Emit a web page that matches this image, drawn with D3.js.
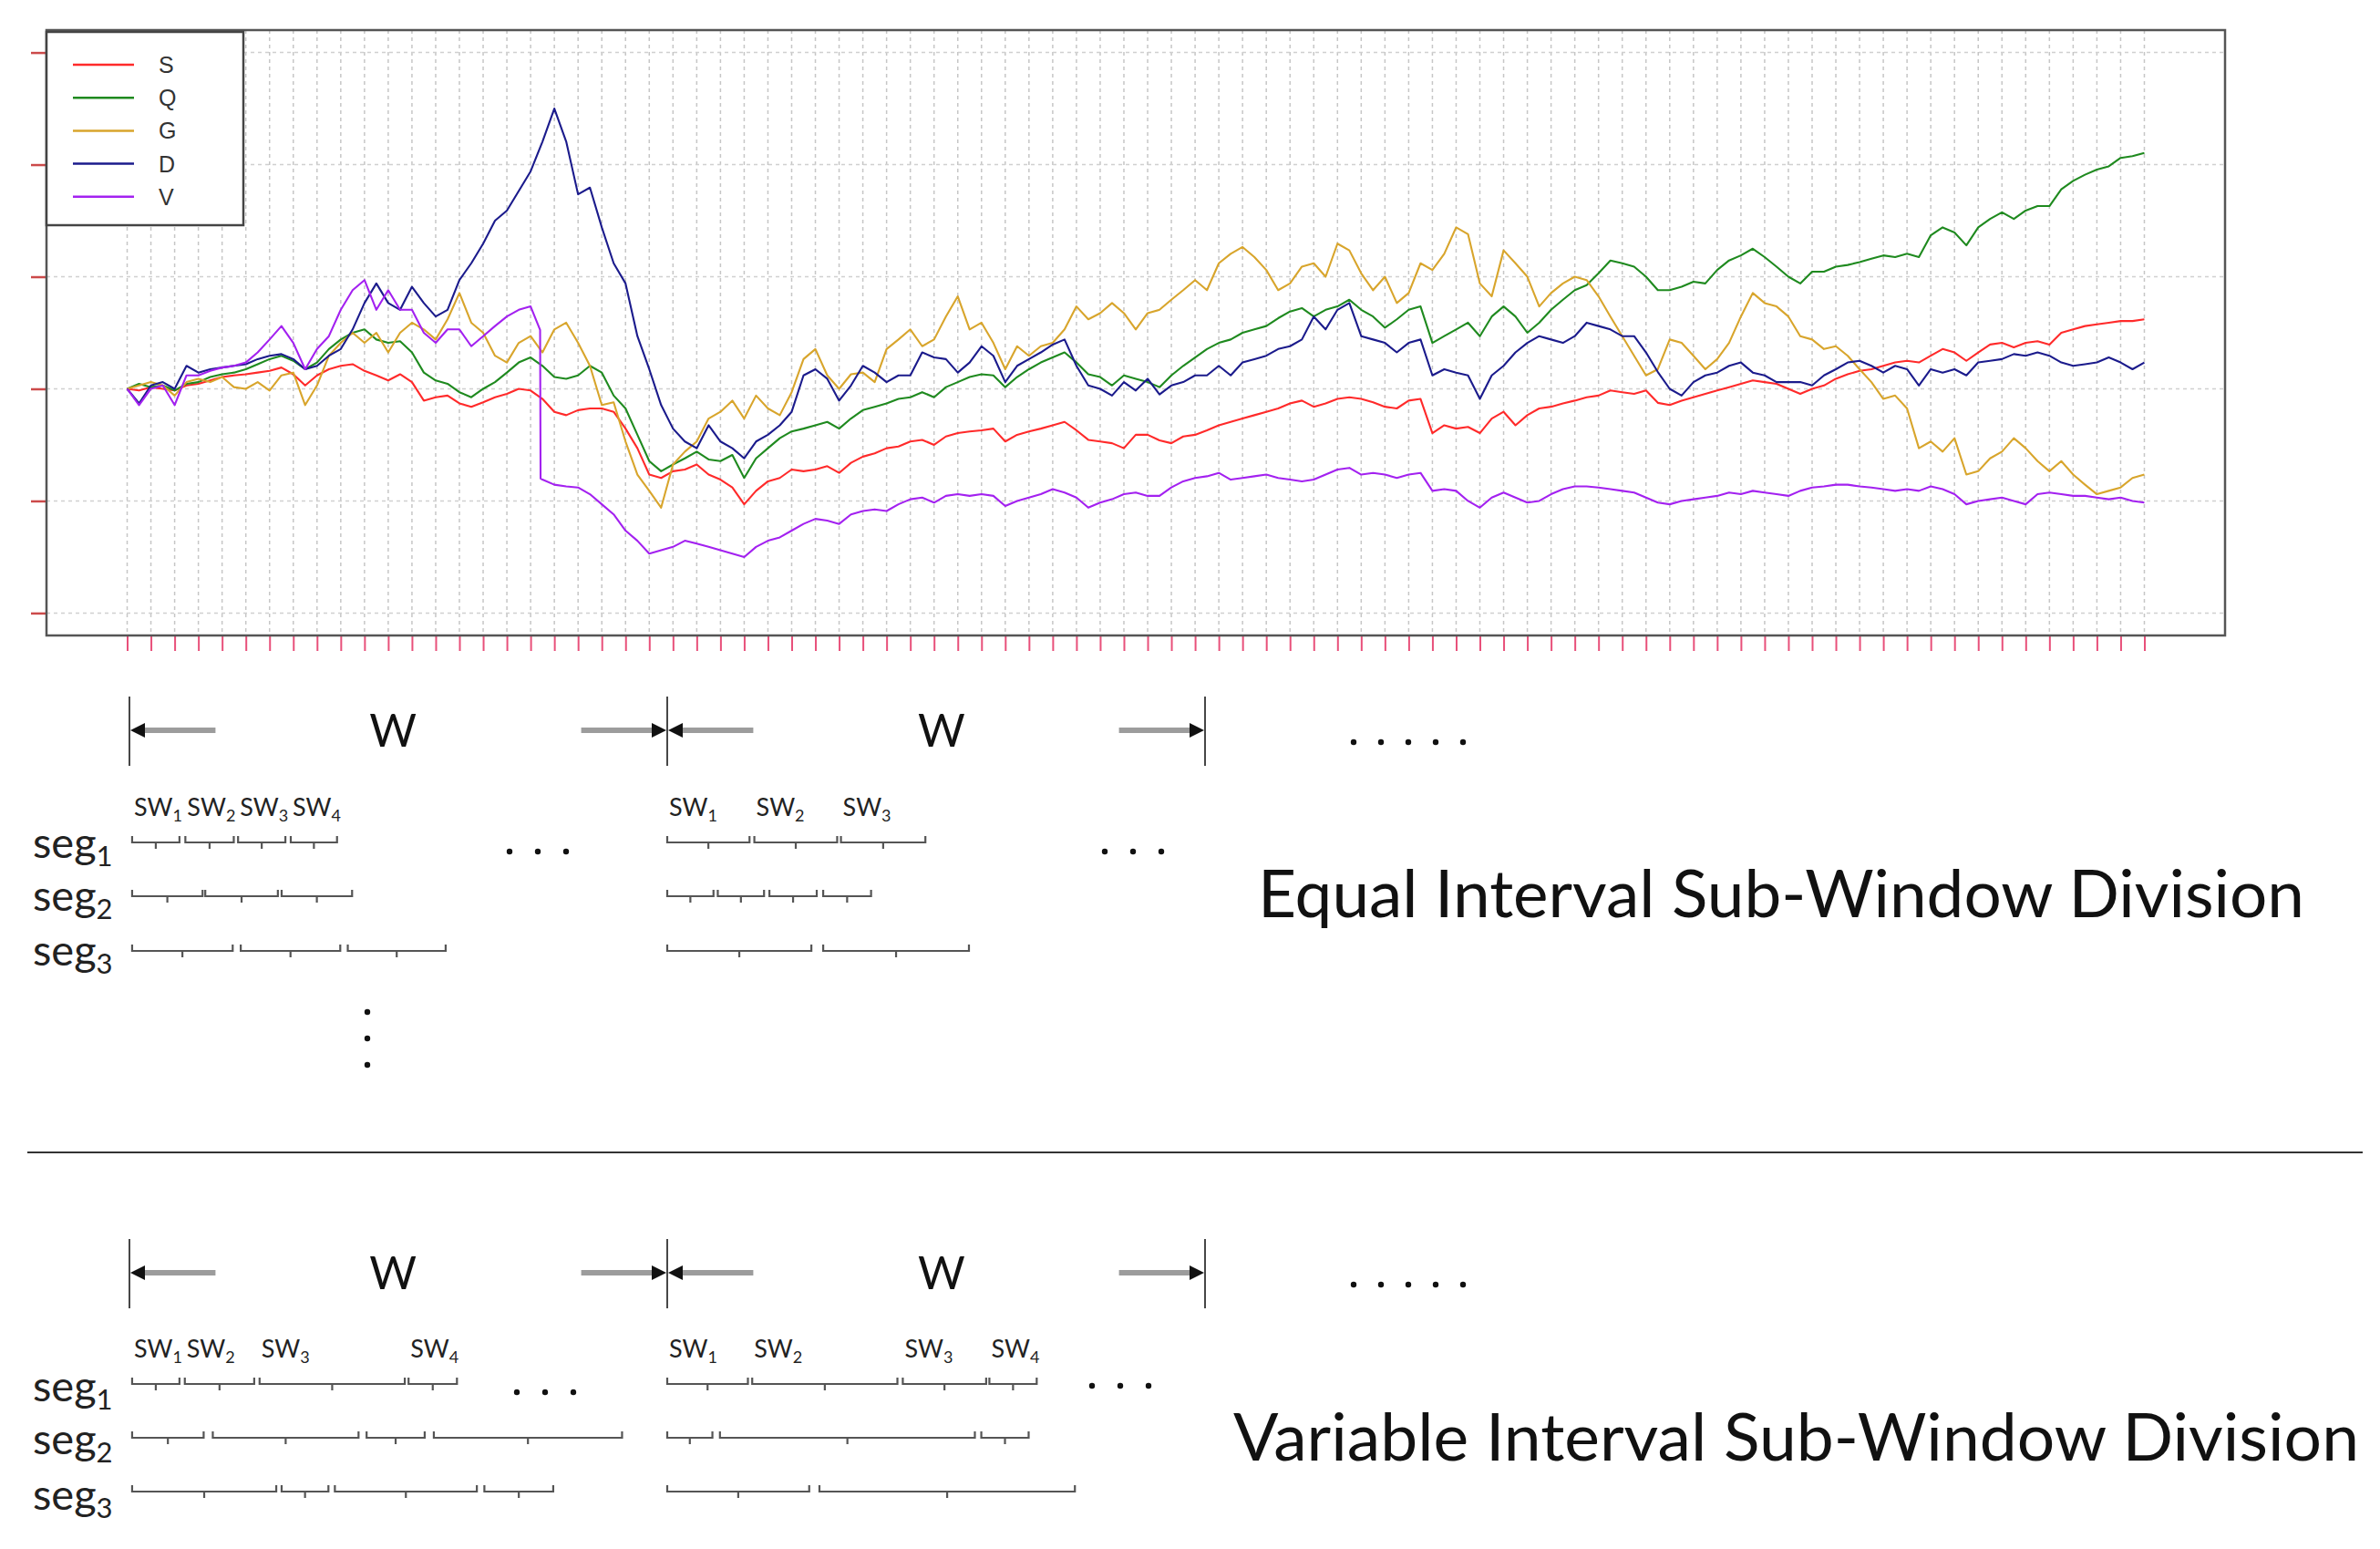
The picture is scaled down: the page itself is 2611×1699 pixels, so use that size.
<!DOCTYPE html>
<html><head><meta charset="utf-8">
<script src="https://cdn.jsdelivr.net/npm/d3@7/dist/d3.min.js"></script>
<style>body{margin:0;background:#fff}svg{display:block}</style>
</head><body>
<svg id="c" width="2611" height="1699"></svg>
<script>
// ---------- DATA ----------
const seriesNames  = ["S","Q","G","D","V"];
const seriesColors = ["#ff2a2a","#1f8a1f","#d8a52c","#1b1b8c","#a321f0"];
const tStep = 0.5;            // sampling step (in x-tick units)
const xTickValues = d3.range(0, 86, 1);
const yTickValues = [0.6, 0.8, 1.0, 1.2, 1.4, 1.6];

const S = [
1.000,0.997,1.003,1.000,0.997,1.006,1.009,1.015,1.021,1.024,
1.026,1.029,1.032,1.038,1.026,1.006,1.024,1.035,1.041,1.044,
1.032,1.024,1.015,1.026,1.012,0.979,0.985,0.988,0.974,0.968,
0.976,0.985,0.991,1.000,0.997,0.982,0.959,0.953,0.962,0.965,
0.965,0.959,0.929,0.894,0.847,0.841,0.853,0.856,0.865,0.847,
0.838,0.824,0.794,0.818,0.835,0.841,0.856,0.853,0.856,0.862,
0.850,0.868,0.879,0.885,0.894,0.897,0.906,0.909,0.900,0.915,
0.921,0.924,0.926,0.929,0.906,0.918,0.924,0.929,0.935,0.941,
0.926,0.909,0.906,0.903,0.894,0.918,0.918,0.908,0.903,0.915,
0.918,0.926,0.935,0.941,0.947,0.953,0.959,0.965,0.974,0.979,
0.968,0.974,0.982,0.985,0.982,0.976,0.968,0.965,0.979,0.982,
0.921,0.935,0.929,0.932,0.921,0.947,0.959,0.935,0.953,0.965,
0.968,0.974,0.979,0.985,0.988,0.997,0.994,0.991,0.997,0.975,
0.971,0.979,0.985,0.991,0.997,1.003,1.009,1.015,1.012,1.009,
1.000,0.991,1.000,1.006,1.018,1.026,1.032,1.035,1.041,1.047,
1.050,1.047,1.059,1.071,1.065,1.050,1.065,1.079,1.082,1.074,
1.082,1.085,1.079,1.100,1.106,1.112,1.115,1.118,1.121,1.121,
1.124];
const Q = [
1.000,1.009,1.003,1.006,0.997,1.009,1.012,1.021,1.026,1.029,
1.035,1.044,1.053,1.059,1.050,1.035,1.047,1.071,1.088,1.100,
1.106,1.088,1.082,1.085,1.065,1.029,1.015,1.009,0.994,0.985,
1.000,1.012,1.029,1.047,1.056,1.041,1.021,1.018,1.024,1.041,
1.029,0.988,0.965,0.918,0.871,0.853,0.865,0.876,0.888,0.874,
0.871,0.882,0.841,0.876,0.894,0.912,0.924,0.929,0.935,0.941,
0.929,0.947,0.962,0.968,0.974,0.982,0.985,0.994,0.985,1.003,
1.012,1.021,1.026,1.024,1.003,1.021,1.035,1.047,1.056,1.065,
1.047,1.026,1.021,1.006,1.024,1.018,1.012,1.003,1.024,1.041,
1.056,1.071,1.082,1.088,1.100,1.106,1.112,1.126,1.138,1.144,
1.129,1.141,1.147,1.159,1.141,1.129,1.109,1.124,1.141,1.147,
1.082,1.094,1.106,1.118,1.094,1.129,1.147,1.129,1.100,1.118,
1.141,1.159,1.176,1.185,1.206,1.229,1.224,1.218,1.200,1.176,
1.176,1.182,1.191,1.188,1.212,1.229,1.238,1.250,1.235,1.218,
1.200,1.188,1.209,1.209,1.218,1.221,1.226,1.232,1.238,1.235,
1.241,1.235,1.274,1.288,1.279,1.256,1.288,1.303,1.315,1.303,
1.318,1.326,1.326,1.356,1.371,1.382,1.391,1.397,1.412,1.415,
1.421];
const G = [
1.000,1.006,1.012,1.006,0.988,1.012,1.018,1.012,1.021,1.003,
1.000,1.012,0.997,1.024,1.029,0.971,1.006,1.059,1.082,1.100,
1.082,1.100,1.065,1.100,1.118,1.106,1.088,1.124,1.171,1.118,
1.100,1.059,1.047,1.082,1.094,1.065,1.106,1.118,1.082,1.041,
0.971,0.976,0.906,0.847,0.818,0.788,0.865,0.888,0.906,0.947,
0.959,0.979,0.947,0.988,0.965,0.953,0.994,1.053,1.071,1.024,
1.000,1.026,1.029,1.012,1.071,1.088,1.106,1.076,1.088,1.129,
1.165,1.106,1.118,1.082,1.035,1.076,1.059,1.076,1.082,1.106,
1.147,1.124,1.135,1.153,1.135,1.106,1.135,1.141,1.159,1.176,
1.194,1.176,1.224,1.241,1.253,1.235,1.212,1.176,1.188,1.218,
1.224,1.200,1.259,1.247,1.206,1.176,1.200,1.153,1.171,1.224,
1.212,1.241,1.288,1.276,1.188,1.165,1.247,1.224,1.200,1.147,
1.171,1.188,1.200,1.194,1.165,1.129,1.094,1.059,1.024,1.035,
1.088,1.082,1.059,1.035,1.053,1.082,1.129,1.171,1.153,1.147,
1.129,1.094,1.088,1.071,1.076,1.059,1.035,1.012,0.982,0.988,
0.965,0.894,0.906,0.888,0.912,0.847,0.853,0.876,0.888,0.912,
0.894,0.871,0.853,0.871,0.847,0.829,0.812,0.818,0.824,0.841,
0.847];
const D = [
1.000,0.974,1.006,1.012,1.000,1.041,1.029,1.035,1.038,1.041,
1.044,1.053,1.059,1.062,1.053,1.035,1.041,1.059,1.071,1.106,
1.153,1.188,1.153,1.141,1.182,1.153,1.129,1.141,1.194,1.224,
1.259,1.300,1.318,1.353,1.388,1.441,1.500,1.441,1.347,1.359,
1.288,1.224,1.188,1.094,1.035,0.971,0.929,0.906,0.894,0.935,
0.906,0.894,0.876,0.906,0.918,0.935,0.959,1.024,1.035,1.018,
0.979,1.006,1.041,1.029,1.012,1.024,1.024,1.065,1.056,1.053,
1.029,1.047,1.076,1.059,1.012,1.041,1.053,1.065,1.079,1.088,
1.041,1.006,1.000,0.988,1.012,0.997,1.018,0.990,1.006,1.012,
1.024,1.024,1.041,1.024,1.047,1.053,1.059,1.071,1.076,1.088,
1.129,1.106,1.141,1.153,1.094,1.088,1.082,1.065,1.082,1.088,
1.024,1.035,1.029,1.024,0.982,1.024,1.041,1.065,1.082,1.094,
1.088,1.082,1.094,1.118,1.112,1.106,1.094,1.094,1.065,1.030,
1.000,0.988,1.012,1.024,1.029,1.041,1.047,1.029,1.024,1.012,
1.012,1.012,1.006,1.024,1.035,1.047,1.050,1.041,1.029,1.041,
1.035,1.006,1.035,1.029,1.035,1.024,1.047,1.050,1.053,1.062,
1.059,1.065,1.059,1.047,1.041,1.044,1.047,1.056,1.047,1.035,
1.047];
const V = [
1.000,0.971,1.000,1.006,0.971,1.024,1.024,1.032,1.038,1.041,
1.047,1.065,1.088,1.112,1.082,1.035,1.071,1.094,1.141,1.176,
1.194,1.141,1.176,1.141,1.141,1.100,1.082,1.106,1.106,1.076,
1.094,1.112,1.129,1.141,1.147,0.838,0.829,0.826,0.824,0.812,
0.794,0.776,0.747,0.729,0.706,0.712,0.718,0.729,0.724,0.718,
0.712,0.706,0.700,0.718,0.729,0.735,0.747,0.759,0.768,0.765,
0.759,0.776,0.782,0.785,0.782,0.794,0.803,0.806,0.797,0.809,
0.812,0.809,0.812,0.809,0.791,0.800,0.806,0.812,0.821,0.815,
0.806,0.788,0.797,0.803,0.812,0.815,0.809,0.809,0.824,0.835,
0.841,0.844,0.850,0.838,0.841,0.844,0.847,0.841,0.838,0.835,
0.838,0.847,0.856,0.859,0.847,0.850,0.847,0.841,0.847,0.850,
0.818,0.821,0.818,0.800,0.788,0.806,0.815,0.806,0.797,0.800,
0.812,0.821,0.826,0.826,0.824,0.821,0.818,0.815,0.806,0.797,
0.794,0.800,0.803,0.806,0.809,0.815,0.812,0.818,0.815,0.812,
0.809,0.818,0.824,0.826,0.829,0.829,0.826,0.824,0.821,0.818,
0.821,0.818,0.826,0.821,0.812,0.794,0.800,0.803,0.806,0.800,
0.794,0.812,0.815,0.812,0.809,0.809,0.806,0.803,0.806,0.800,
0.797];
const vJump = [[17.40, 1.105], [17.42, 0.840]];   // sudden drop of V

// sub-window diagrams (in window units, W = 1)
const windowEdges = [0, 1, 2];
const windowLabels = [0.49, 1.51];
const equalSegs = [
  [[0.005,0.093],[0.104,0.194],[0.202,0.290],[0.300,0.386],[1.000,1.153],[1.162,1.316],[1.323,1.480]],
  [[0.005,0.136],[0.141,0.276],[0.283,0.414],[1.000,1.086],[1.094,1.180],[1.190,1.278],[1.290,1.379]],
  [[0.005,0.192],[0.207,0.392],[0.406,0.588],[1.000,1.268],[1.290,1.561]]
];
const variableSegs = [
  [[0.005,0.093],[0.103,0.232],[0.242,0.512],[0.519,0.609],[1.000,1.150],[1.158,1.428],[1.438,1.593],[1.599,1.687]],
  [[0.005,0.138],[0.155,0.426],[0.441,0.549],[0.566,0.916],[1.000,1.084],[1.098,1.572],[1.584,1.672]],
  [[0.005,0.273],[0.283,0.370],[0.382,0.646],[0.660,0.788],[1.000,1.264],[1.283,1.758]]
];
const segNames = ["seg","seg","seg"];
const titles = ["Equal Interval Sub-Window Division", "Variable Interval Sub-Window Division"];

// ---------- DRAW ----------
const svg = d3.select("#c");
svg.append("rect").attr("width",2611).attr("height",1699).attr("fill","#fff");

const box = {l:51, r:2441, t:33, b:697};
const x = d3.scaleLinear().domain([-3.4, 88.4]).range([box.l, box.r]);
const y = d3.scaleLinear().domain([0.56, 1.64]).range([box.b, box.t]);
const days = d3.range(0, 85 + tStep/2, tStep);

// grid
const grid = svg.append("g");
grid.selectAll("line.v").data(xTickValues).join("line")
  .attr("x1",d=>x(d)).attr("x2",d=>x(d)).attr("y1",box.t).attr("y2",box.b)
  .attr("stroke","#c6c6c6").attr("stroke-width",1.5).attr("stroke-dasharray","4,4");
grid.selectAll("line.h").data(yTickValues).join("line")
  .attr("x1",box.l).attr("x2",box.r).attr("y1",d=>y(d)).attr("y2",d=>y(d))
  .attr("stroke","#d0d0d0").attr("stroke-width",1.5).attr("stroke-dasharray","4,4");

// axes (ticks only, no labels)
const xAxis = d3.axisBottom(x).tickValues(xTickValues).tickSize(17).tickFormat("");
const gx = svg.append("g").attr("transform",`translate(0,${box.b})`).call(xAxis);
gx.select(".domain").remove();
gx.selectAll(".tick line").attr("stroke","#e8507a").attr("stroke-width",2);
const yAxis = d3.axisLeft(y).tickValues(yTickValues).tickSize(17).tickFormat("");
const gy = svg.append("g").attr("transform",`translate(${box.l},0)`).call(yAxis);
gy.select(".domain").remove();
gy.selectAll(".tick line").attr("stroke","#cc4a4a").attr("stroke-width",2.5);

// series
const seriesValues = [S,Q,G,D,V];
const line = d3.line().x(d=>x(d[0])).y(d=>y(d[1]));
svg.append("clipPath").attr("id","pc").append("rect")
  .attr("x",box.l).attr("y",box.t).attr("width",box.r-box.l).attr("height",box.b-box.t);
seriesValues.forEach((vals,k)=>{
  let pts = days.slice(0, vals.length).map((t,i)=>[t, vals[i]]);
  if (seriesNames[k]==="V") pts = pts.concat(vJump).sort((a,b)=>a[0]-b[0]);
  svg.append("path").datum(pts).attr("d",line).attr("fill","none")
    .attr("stroke",seriesColors[k]).attr("stroke-width",2.1)
    .attr("stroke-linejoin","round").attr("clip-path","url(#pc)");
});

// plot frame
svg.append("rect").attr("x",box.l).attr("y",box.t).attr("width",box.r-box.l).attr("height",box.b-box.t)
  .attr("fill","none").attr("stroke","#555").attr("stroke-width",2.5);

// legend
const lg = svg.append("g");
lg.append("rect").attr("x",51).attr("y",35).attr("width",216).attr("height",212)
  .attr("fill","#fff").attr("stroke","#444").attr("stroke-width",2.5);
seriesNames.forEach((n,i)=>{
  const yy = 71 + i*36.2;
  lg.append("line").attr("x1",80).attr("x2",147).attr("y1",yy).attr("y2",yy)
    .attr("stroke",seriesColors[i]).attr("stroke-width",2.5);
  lg.append("text").attr("x",174).attr("y",yy+9).text(n)
    .attr("font-family","Liberation Sans, Arial, sans-serif").attr("font-size",25).attr("fill","#333");
});

// ---------- diagrams ----------
const u = d3.scaleLinear().domain([0,2]).range([142, 1322]);
const FONT = "Lato, 'Open Sans', sans-serif";

function arrow(g, xTail, xHead, yy){
  const dir = Math.sign(xHead - xTail);
  g.append("line").attr("x1",xTail).attr("x2",xHead - dir*12).attr("y1",yy).attr("y2",yy)
    .attr("stroke","#9c9c9c").attr("stroke-width",6);
  g.append("path").attr("d",`M${xHead},${yy} L${xHead-dir*16},${yy-8} L${xHead-dir*16},${yy+8} Z`).attr("fill","#111");
}
function bracket(g, x0, x1, yy){
  const xm = (x0+x1)/2;
  g.append("path").attr("d",`M${x0},${yy-7} L${x0},${yy} L${x1},${yy} L${x1},${yy-7} M${xm},${yy} L${xm},${yy+7}`)
    .attr("fill","none").attr("stroke","#555").attr("stroke-width",2.2);
}
function dots(g, x0, n, gap, yy){
  for(let i=0;i<n;i++) g.append("circle").attr("cx",x0+i*gap).attr("cy",yy).attr("r",3.2).attr("fill","#111");
}
function subText(g, xx, yy, main, sub, fs, sfs, dy){
  const t = g.append("text").attr("x",xx).attr("y",yy).attr("font-family",FONT).attr("font-size",fs).attr("fill","#222");
  t.append("tspan").text(main);
  t.append("tspan").attr("font-size",sfs).attr("dy",dy).text(sub);
}

function panel(cfg){
  const g = svg.append("g");
  windowEdges.forEach(e=>{
    g.append("line").attr("x1",u(e)).attr("x2",u(e)).attr("y1",cfg.wy-37).attr("y2",cfg.wy+39)
      .attr("stroke","#333").attr("stroke-width",1.8);
  });
  [0,1].forEach(w=>{
    arrow(g, u(w+0.16), u(w)+1, cfg.wy);
    arrow(g, u(w+0.84), u(w+1)-1, cfg.wy);
  });
  windowLabels.forEach(c=>{
    g.append("text").attr("x",u(c)).attr("y",cfg.wy+18).attr("text-anchor","middle")
      .attr("font-family",FONT).attr("font-size",50).attr("fill","#111").text("W");
  });
  dots(g, 1485, 5, 30, cfg.wy+13);
  let idx = 0, prevW = 0;
  cfg.segs[0].forEach(s=>{
    const w = Math.floor(s[0]);
    if (w!==prevW){ idx=0; prevW=w; }
    idx++;
    subText(g, u(s[0])+2, cfg.swy, "SW", String(idx), 27, 18, 6);
  });
  cfg.segs.forEach((row,r)=>{
    row.forEach(s=>bracket(g, u(s[0]), u(s[1]), cfg.segy[r]));
    subText(g, 36, cfg.laby[r], segNames[r], String(r+1), 47, 31, 9);
  });
  cfg.ellipses.forEach(e=>dots(g, e[0], 3, 31, e[1]));
  g.append("text").attr("x",cfg.tx).attr("y",cfg.ty).attr("font-family",FONT).attr("font-size",72)
    .attr("fill","#111").attr("textLength",cfg.tw).attr("lengthAdjust","spacingAndGlyphs").text(cfg.title);
  return g;
}

const topPanel = panel({wy:801, swy:895, segy:[924,983,1043], laby:[941,999,1059], segs:equalSegs,
  ellipses:[[559,934],[1212,934]], tx:1380, ty:1006, tw:1148, title:titles[0]});
dots(topPanel, 403, 1, 0, 1110); dots(topPanel, 403, 1, 0, 1139); dots(topPanel, 403, 1, 0, 1168);

svg.append("line").attr("x1",30).attr("x2",2592).attr("y1",1264).attr("y2",1264)
  .attr("stroke","#333").attr("stroke-width",2);

panel({wy:1396, swy:1489, segy:[1518,1577,1636], laby:[1537,1595,1656], segs:variableSegs,
  ellipses:[[567,1527],[1198,1520]], tx:1353, ty:1602, tw:1235, title:titles[1]});
</script>
</body></html>
